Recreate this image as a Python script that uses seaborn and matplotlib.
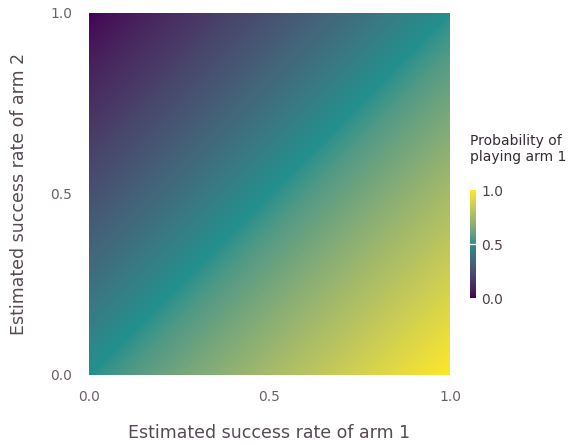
import numpy as np
import seaborn as sns
import matplotlib
matplotlib.use("Agg")
import matplotlib.pyplot as plt
from matplotlib.colors import ListedColormap, to_rgb

# values at the tick positions (rows = arm 2 rate, cols = arm 1 rate)
arm1_rates = [0.0, 0.5, 1.0]
arm2_rates = [0.0, 0.5, 1.0]
prob_arm1 = [
    [0.50, 0.75, 1.00],   # arm 2 = 0.0
    [0.25, 0.50, 0.75],   # arm 2 = 0.5
    [0.00, 0.25, 0.50],   # arm 2 = 1.0
]
tick_labels = ["0.0", "0.5", "1.0"]

sns.set_theme(style="white")
plt.rcParams['font.family'] = ['DejaVu Sans']

minor_col = "#6c606b"
major_col = "#564a55"
key_title_col = "#362a35"
key_label_col = "#4c404b"

# three viridis stops blended in Lab space
WHITE = np.array([0.95047, 1.0, 1.08883])
M = np.array([[0.4124, 0.3576, 0.1805],
              [0.2126, 0.7152, 0.0722],
              [0.0193, 0.1192, 0.9505]])


def rgb2lab(c):
    c = np.asarray(c, float)
    lin = np.where(c <= 0.04045, c / 12.92, ((c + 0.055) / 1.055) ** 2.4)
    xyz = M @ lin / WHITE
    f = np.where(xyz > (6 / 29) ** 3, np.cbrt(xyz), xyz / (3 * (6 / 29) ** 2) + 4 / 29)
    return np.array([116 * f[1] - 16, 500 * (f[0] - f[1]), 200 * (f[1] - f[2])])


def lab2rgb(lab):
    L, a, b = lab
    fy = (L + 16) / 116
    f = np.array([fy + a / 500, fy, fy - b / 200])
    xyz = np.where(f > 6 / 29, f ** 3, 3 * (6 / 29) ** 2 * (f - 4 / 29)) * WHITE
    lin = np.linalg.solve(M, xyz)
    lin = np.clip(lin, 0, 1)
    c = np.where(lin <= 0.0031308, 12.92 * lin, 1.055 * lin ** (1 / 2.4) - 0.055)
    return np.clip(c, 0, 1)


stops = [rgb2lab(to_rgb(h)) for h in ["#440154", "#21908d", "#fde725"]]
cols = []
for t in np.linspace(0, 1, 256):
    seg = min(int(t * 2), 1)
    u = t * 2 - seg
    cols.append(lab2rgb((1 - u) * stops[seg] + u * stops[seg + 1]))
cmap = ListedColormap(cols)

fig = plt.figure(figsize=(5.78, 4.45), dpi=100)
ax = fig.add_axes([89 / 578, 70 / 445, 361 / 578, 362 / 445])

# half-step padding so the pixel centres sit on the read values
dx = (arm1_rates[1] - arm1_rates[0]) / 2
dy = (arm2_rates[1] - arm2_rates[0]) / 2
im = ax.imshow(np.array(prob_arm1), origin="lower", cmap=cmap, vmin=0, vmax=1,
               extent=[arm1_rates[0] - dx, arm1_rates[-1] + dx,
                       arm2_rates[0] - dy, arm2_rates[-1] + dy],
               interpolation="bilinear", interpolation_stage="data", aspect="auto")
ax.set_xlim(0, 1)
ax.set_ylim(0, 1)

for s in ax.spines.values():
    s.set_visible(False)
ax.set_xticks(arm1_rates)
ax.set_xticklabels(tick_labels)
ax.set_yticks(arm2_rates)
ax.set_yticklabels(tick_labels)
ax.tick_params(length=0, labelsize=10, labelcolor=minor_col)
ax.tick_params(axis="x", pad=11)
ax.tick_params(axis="y", pad=12)

ax.set_xlabel("Estimated success rate of arm 1", fontsize=12.5, color=major_col)
ax.set_ylabel("Estimated success rate of arm 2", fontsize=12.5, color=major_col)
ax.xaxis.set_label_coords(0.5, -0.135)
ax.yaxis.set_label_coords(-0.17, 0.5)

# colour key
cax = fig.add_axes([470 / 578, 147 / 445, 6 / 578, 108 / 445])
cb = fig.colorbar(im, cax=cax)
cb.outline.set_visible(False)
cb.set_ticks([0, 0.5, 1])
cb.set_ticklabels(tick_labels)
cax.tick_params(length=0, labelsize=10, labelcolor=key_label_col, pad=4)
cax.axhline(0.5, color="white", lw=1)
fig.text(470 / 578, 1 - 134 / 445, "Probability of\nplaying arm 1",
         ha="left", va="top", fontsize=10, color=key_title_col, linespacing=1.15)

fig.savefig("out.png", dpi=100)
